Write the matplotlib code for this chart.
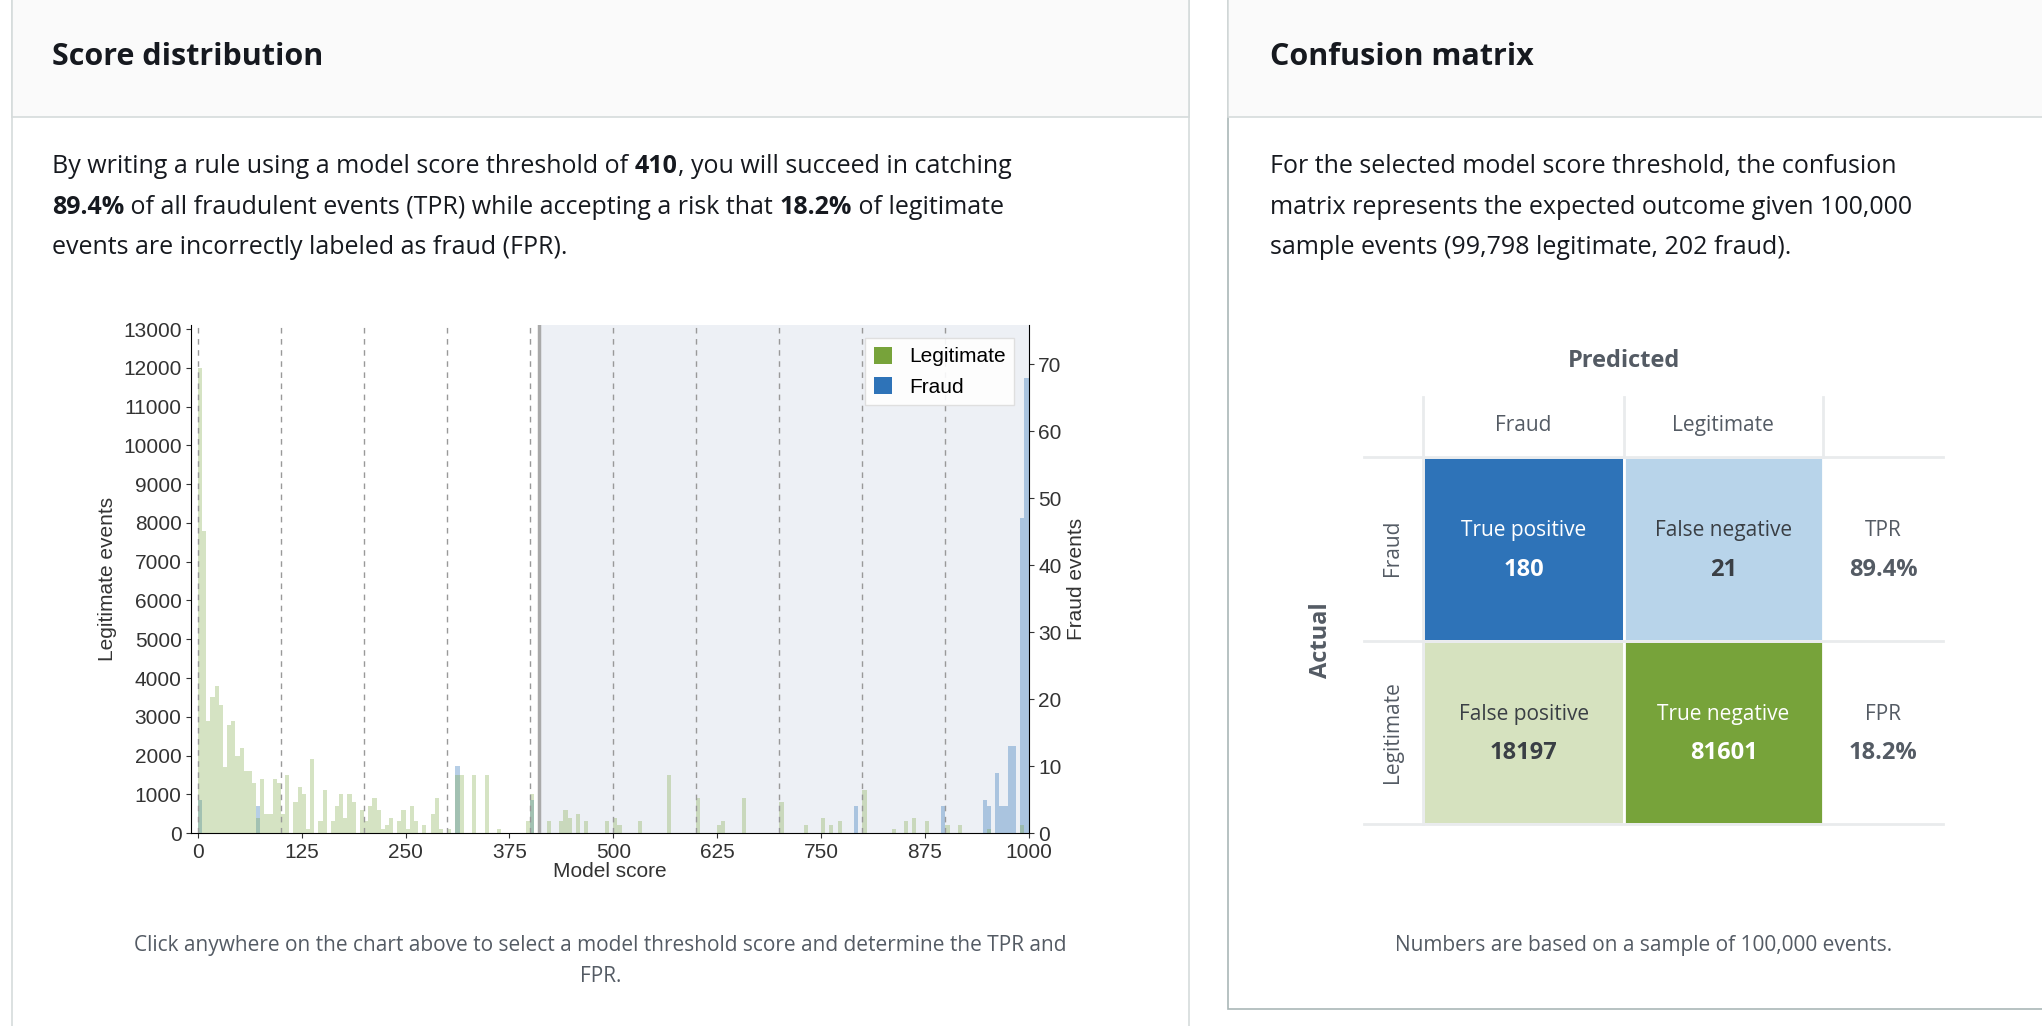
import matplotlib
matplotlib.use("Agg")
import matplotlib.pyplot as plt
from matplotlib.patches import Rectangle

# histogram data (bin start, count), bins are 5 score points wide
legit_bins = [0, 5, 10, 15, 20, 25, 30, 35, 40, 45, 50, 55, 60, 65, 70, 75, 80, 85, 90, 95,
              100, 105, 115, 120, 125, 130, 135, 145, 150, 160, 165, 170, 175, 180, 185, 195,
              200, 205, 210, 215, 220, 225, 230, 240, 245, 250, 255, 260, 270, 280, 285, 290,
              300, 310, 315, 330, 345, 360, 395, 400, 420, 435, 440, 445, 455, 465, 490, 500,
              505, 530, 565, 600, 625, 630, 655, 700, 730, 750, 760, 770, 800, 835, 850, 860,
              875, 900, 915, 950, 990]
legit_counts = [12000, 7800, 2900, 3500, 3800, 3300, 1700, 2800, 2900, 2000, 2200, 1600, 1600,
                1300, 400, 1400, 500, 500, 1400, 1300, 500, 1500, 800, 1200, 1000, 100, 1900,
                300, 1100, 300, 700, 1000, 400, 1000, 800, 600, 300, 700, 900, 600, 100, 200,
                400, 300, 600, 100, 700, 300, 200, 500, 900, 100, 100, 1500, 1500, 1500, 1500,
                100, 300, 1000, 300, 300, 600, 400, 500, 300, 300, 400, 200, 300, 1500, 900,
                200, 300, 900, 800, 200, 400, 200, 300, 1100, 100, 300, 400, 300, 200, 200,
                100, 200]
fraud_bins = [0, 70, 310, 400, 790, 895, 945, 950, 960, 965, 970, 975, 980, 990, 995]
fraud_counts = [5, 4, 10, 5, 4, 4, 5, 4, 9, 4, 4, 13, 13, 47, 68]

x_ticks = [0, 125, 250, 375, 500, 625, 750, 875, 1000]
grid_lines = [0, 100, 200, 300, 400, 500, 600, 700, 800, 900]
threshold = 410

cm_values = [["True positive", "180"], ["False negative", "21"],
             ["False positive", "18197"], ["True negative", "81601"]]
cm_rates = [["TPR", "89.4%"], ["FPR", "18.2%"]]

GREEN = "#77a33a"
BLUE = "#2e73b8"
TXT = "#16191f"
GRAY = "#545b64"
FONT = "Open Sans"
CHART_FONT = "Liberation Sans"

fig = plt.figure(figsize=(20.42, 10.26), dpi=100)
ov = fig.add_axes([0, 0, 1, 1], zorder=-1)
ov.set_xlim(0, 1568)
ov.set_ylim(788, 0)
ov.axis("off")

# panels
ov.add_patch(Rectangle((9, -2), 904, 800, fc="white", ec="#d5dbdb", lw=1.2))
ov.add_patch(Rectangle((9, -2), 904, 92, fc="#fafafa", ec="#d5dbdb", lw=1.2))
ov.add_patch(Rectangle((943, -2), 630, 777, fc="white", ec="#aab7b8", lw=1.2))
ov.add_patch(Rectangle((943, -2), 630, 92, fc="#fafafa", ec="#d5dbdb", lw=1.2))
ov.text(40, 44, "Score distribution", fontsize=22, weight="bold", family=FONT, color=TXT, va="center")
ov.text(975, 44, "Confusion matrix", fontsize=22, weight="bold", family=FONT, color=TXT, va="center")

renderer = fig.canvas.get_renderer()


def rich_line(x, y, parts, size=18):
    # draw text segments one after another, bold where asked
    for s, bold in parts:
        t = ov.text(x, y, s, fontsize=size, family=FONT, color=TXT, va="center",
                    weight="bold" if bold else "normal")
        bb = t.get_window_extent(renderer)
        x += bb.width * 1568 / fig.bbox.width


rich_line(40, 128, [("By writing a rule using a model score threshold of ", False), ("410", True),
                    (", you will succeed in catching", False)])
rich_line(40, 159, [("89.4%", True), (" of all fraudulent events (TPR) while accepting a risk that ", False),
                    ("18.2%", True), (" of legitimate", False)])
rich_line(40, 190, [("events are incorrectly labeled as fraud (FPR).", False)])
rich_line(975, 128, [("For the selected model score threshold, the confusion", False)])
rich_line(975, 159, [("matrix represents the expected outcome given 100,000", False)])
rich_line(975, 190, [("sample events (99,798 legitimate, 202 fraud).", False)])

ov.text(461, 726, "Click anywhere on the chart above to select a model threshold score and determine the TPR and",
        fontsize=15, family=FONT, color=GRAY, ha="center", va="center")
ov.text(461, 750, "FPR.", fontsize=15, family=FONT, color=GRAY, ha="center", va="center")
ov.text(1262, 726, "Numbers are based on a sample of 100,000 events.",
        fontsize=15, family=FONT, color=GRAY, ha="center", va="center")

# confusion matrix
xs = [1093, 1247, 1400, 1492]
ys = [351, 492, 633]
ov.text(1247, 277, "Predicted", fontsize=17, weight="bold", family=FONT, color=GRAY, ha="center", va="center")
ov.text(1014, 492, "Actual", fontsize=17, weight="bold", family=FONT, color=GRAY, ha="center", va="center", rotation=90)
ov.text(1170, 327, "Fraud", fontsize=15, family=FONT, color=GRAY, ha="center", va="center")
ov.text(1323, 327, "Legitimate", fontsize=15, family=FONT, color=GRAY, ha="center", va="center")
ov.text(1069, 421, "Fraud", fontsize=15, family=FONT, color=GRAY, ha="center", va="center", rotation=90)
ov.text(1069, 562, "Legitimate", fontsize=15, family=FONT, color=GRAY, ha="center", va="center", rotation=90)
fills = ["#2e73b8", "#b8d4ea", "#d6e2bf", "#77a33a"]
tcol = ["white", "#3a3f45", "#3a3f45", "white"]
for k, (lab, val) in enumerate(cm_values):
    r, c = divmod(k, 2)
    ov.add_patch(Rectangle((xs[c], ys[r]), xs[c + 1] - xs[c], ys[r + 1] - ys[r],
                           fc=fills[k], ec="white", lw=2))
    cx = (xs[c] + xs[c + 1]) / 2
    cy = (ys[r] + ys[r + 1]) / 2
    ov.text(cx, cy - 14, lab, fontsize=15, family=FONT, color=tcol[k], ha="center", va="center")
    ov.text(cx, cy + 16, val, fontsize=17, weight="bold", family=FONT, color=tcol[k], ha="center", va="center")
for r, (lab, val) in enumerate(cm_rates):
    cy = (ys[r] + ys[r + 1]) / 2
    ov.text(1446, cy - 14, lab, fontsize=15, family=FONT, color=GRAY, ha="center", va="center")
    ov.text(1446, cy + 16, val, fontsize=17, weight="bold", family=FONT, color=GRAY, ha="center", va="center")
for x in [1093, 1247, 1400]:
    ov.plot([x, x], [305, 351], color="#e9ebed", lw=2)
for y in [351, 492, 633]:
    ov.plot([1047, 1492], [y, y], color="#e9ebed", lw=2)
ov.plot([1093, 1093], [351, 633], color="#e9ebed", lw=2)

# histogram
ax = fig.add_axes([0.0937, 0.188, 0.41, 0.495])
ax2 = ax.twinx()
ax.set_zorder(ax2.get_zorder() + 1)
ax.patch.set_visible(False)
ax2.axvspan(threshold, 1000, color="#edf0f5", zorder=0)
ax.bar(legit_bins, legit_counts, width=5, align="edge", color=GREEN, alpha=0.3, zorder=2)
ax2.bar(fraud_bins, fraud_counts, width=5, align="edge", color=BLUE, alpha=0.35, zorder=2)
for g in grid_lines:
    ax.axvline(g, color="#999999", ls=(0, (4, 4)), lw=1, zorder=3)
ax.axvline(threshold, color="#aaaaaa", lw=2.5, zorder=3)
ax.set_xlim(-8, 1000)
ax.set_ylim(0, 13100)
ax2.set_ylim(0, 75.8)
ax.set_xticks(x_ticks)
ax.set_yticks(range(0, 13001, 1000))
ax2.set_yticks(range(0, 71, 10))
for a in (ax, ax2):
    a.tick_params(labelsize=15, color="#333333", labelcolor="#333333")
    for lab in a.get_xticklabels() + a.get_yticklabels():
        lab.set_family(CHART_FONT)
    for s in a.spines.values():
        s.set_visible(False)
ax.spines["left"].set_visible(True)
ax.spines["bottom"].set_visible(True)
ax2.spines["right"].set_visible(True)
ax.set_xlabel("Model score", fontsize=15, color="#333333", labelpad=0, family=CHART_FONT)
ax.set_ylabel("Legitimate events", fontsize=15, color="#333333", family=CHART_FONT)
ax2.set_ylabel("Fraud events", fontsize=15, color="#333333", family=CHART_FONT)
leg_h = [Rectangle((0, 0), 1, 1, fc=GREEN), Rectangle((0, 0), 1, 1, fc=BLUE)]
ax.legend(leg_h, ["Legitimate", "Fraud"], loc="upper right", handlelength=0.9,
          handleheight=0.9, fancybox=False, edgecolor="#dddddd", framealpha=0.9,
          bbox_to_anchor=(0.995, 0.995), prop={"family": CHART_FONT, "size": 15})

fig.savefig("out.png", dpi=100)
